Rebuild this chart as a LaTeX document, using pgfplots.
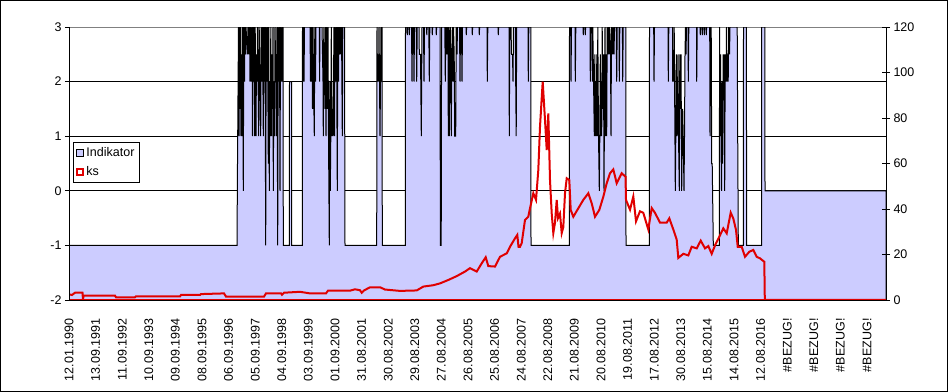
\documentclass[border=0pt]{standalone}
\usepackage{pgfplots}
\pgfplotsset{compat=1.18}
\usepackage{fontspec}
\setmainfont{Liberation Sans}
\definecolor{lav}{RGB}{204,204,255}
\definecolor{ksred}{RGB}{224,0,0}
\pgfplotsset{
  legInd/.style={legend image code/.code={\draw[fill=lav,draw=black,line width=1bp] (0bp,-3.5bp) rectangle (7bp,3.5bp);}},
  legKs/.style={legend image code/.code={\draw[fill=white,draw=ksred,line width=2bp] (0.5bp,-3bp) rectangle (6.5bp,3bp);}},
  base/.style={at={(69bp,92bp)}, anchor=south west, scale only axis,
    width=817bp, height=273bp, xmin=69, xmax=886,
    font=\fontsize{12.5bp}{15bp}\selectfont,
    /pgf/number format/assume math mode=true},
}
\begin{document}
\begin{tikzpicture}
\begin{axis}[base,
  ymin=-2, ymax=3, ytick={-2,-1,0,1,2}, extra y ticks={3},
  extra y tick style={grid style={draw=gray,line width=0.8bp}},
  ymajorgrids, grid style={draw=black, line width=0.8bp},
  axis x line*=bottom, axis y line*=left, axis line style={line width=0.8bp, -},
  xtick={69,95.6,...,868},
  xticklabels={12.01.1990,13.09.1991,11.09.1992,10.09.1993,09.09.1994,08.09.1995,06.09.1996,05.09.1997,04.09.1998,03.09.1999,01.09.2000,31.08.2001,30.08.2002,29.08.2003,27.08.2004,26.08.2005,25.08.2006,24.08.2007,22.08.2008,21.08.2009,20.08.2010,19.08.2011,17.08.2012,30.08.2013,15.08.2014,14.08.2015,12.08.2016,\#BEZUG!,\#BEZUG!,\#BEZUG!,\#BEZUG!},
  x tick label style={rotate=90, anchor=east},
  xticklabel shift=11bp,
  xtick style={draw=none},
  ytick style={draw=black,line width=0.8bp},
  tick align=outside, major tick length=4bp,
]
\addplot[fill=lav, draw=black, line width=1bp] coordinates {
(69,-2)(69,-1)(237,-1)(237.5,0.5)(238.5,3)(239,1)(239.5,3)(240,1.5)(240.5,3)(241,1)(241.5,2.5)(242,1)(242.5,3)(243.3,0)(243.8,3)(244.5,2)(245,3)(245.5,2.5)(246,3)(247.5,2.5)(248,3)(249,2.5)(249.5,3)(250,2)(250.5,3)(251.5,2)(252,3)(252.5,1)(253,3)(253.5,2)(254,3)(254.7,1)(255.2,3)(256,1)(256.5,2.5)(257,2)(257.5,3)(258.7,1)(259.2,3)(260,2)(260.7,1)(261.2,3)(262,2)(262.5,3)(263.3,1)(263.8,3)(264.5,2)(265,3)(265.7,-1)(266.2,3)(267,2)(267.5,3)(268.3,0.5)(268.8,3)(269.3,0)(269.8,2)(270.3,1)(270.8,3)(271.5,1)(272,2.5)(272.5,1.5)(273,3)(273.3,0)(273.8,2)(274.5,1)(275,3)(276,2)(276.5,1)(277,3)(277.7,-1)(278.2,3)(279,2)(279.5,3)(280,0)(280.5,3)(281.5,2)(282,3)(282.5,2)(283,3)(283.3,-1)(289.3,-1)(289.5,2)(291.5,2)(291.7,-1)(302.3,-1)(302.5,3)(303,2)(303.5,3)(304,2)(304.5,3)
(310,3)(310.5,2)(311,3)(311.5,2)(312,3)(312.5,1.5)(313,3)(313.5,2)(314.3,1)(314.8,3)(315.5,2)(316,3)(319.3,3)(319.6,2)(320,3)(322,3)(323,2)(323.3,1)(323.8,3)(324.5,2)(325,1.5)(325.5,3)(326,1)(326.5,3)(327,1.5)(327.5,2)(328,3)(328.5,1)(329.3,-1)(329.8,2)(330.3,0)(330.8,1)(331.3,3)(332,1)(332.5,1.5)(333,1)(333.5,2)(334,3)(334.5,1)(335,3)(336,2)(336.5,3)(337.3,0)(337.8,3)(338.5,2)(339,3)(339.5,2.5)(340,3)(341,2.5)(341.5,3)(342.3,1)(342.8,3)(344.5,3)(345,-1)(376.7,-1)(377,3)(377.5,2)(378,2.5)(378.5,2)(379,3)(379.5,2)(380,1)(380.5,2)(381,3)(381.5,2)(382,3)(382.3,-1)(405.3,-1)(405.5,3)
(407,3)(407.3,2.85)(407.6,3)(409,3)(409.3,2.85)(409.6,3)(411.5,3)(412,2)(412.5,3)(413.5,3)(414,2)(414.5,3)(416.2,3)(416.7,2)(417.2,3)(419,3)(419.3,2.5)(420.5,2.5)(421.3,1)(421.8,2.5)(422,3)(423.5,3)(424,2)(424.5,3)(426.5,3)(426.8,2.85)(427.1,3)(428.8,3)(429.3,2)(429.8,3)(432,3)(432.3,2.85)(432.6,3)(436,3)(436.3,2.85)(436.6,3)(440,3)(440.4,-1)(441.2,-1)(441.6,3)(444.8,3)(445.3,2)(445.8,3)(446.5,2.5)(447,3)(447.5,2.5)(448,3)(448.3,1)(448.8,3)(449.3,1)(449.8,2.5)(450.3,3)(450.8,2)(451.3,1)(451.8,2.5)(452.3,3)(453,2)(453.5,3)(454.2,2.5)(454.7,1)(455.2,1)(455.7,1)(456.2,3)(457,2.5)(457.5,3)(459.5,3)(460,2)(460.5,3)(461.5,3)(462,2)(462.5,3)(466,3)(466.3,2.85)(466.6,3)(472,3)(472.3,2.85)(472.6,3)(479,3)(479.3,2.85)(479.6,3)(487,3)(487.3,2)(487.8,3)(498,3)(498.3,2.85)(498.6,3)(509,3)(509.3,1)(509.8,3)(511,3)(511.5,2.5)(512.5,2.5)(513,2)(513.5,3)(515.3,3)(515.7,2)(516.2,1)(516.7,3)(528,3)(528.3,2)(528.8,3)(530.8,3)(531,-1)(569.3,-1)(569.5,3)
(570.7,3)(571,2)(571.5,3)(575,3)(575.3,2)(575.8,3)(583,3)(583.3,2.85)(583.6,3)(585,3)(585.3,2.85)(585.6,3)(590,3)(590.3,2)(590.8,3)(592,3)(592.3,2)(592.8,3)(594.3,1)(594.8,2.5)(595.3,1)(595.8,2)(596.3,1)(596.8,2.5)(597.3,1)(597.8,3)(598.5,1)(599.3,0)(599.8,1)(600.3,2.5)(600.8,1)(601.3,2)(601.7,1)(602.2,3)(603,1.5)(603.5,2.5)(604,0)(604.5,1.5)(605,3)(605.5,1)(606,2.5)(606.7,1)(607.2,3)(608,2.5)(608.5,3)(609,2.5)(609.5,3)(610.5,2.5)(611,1)(611.5,3)(612.5,2.5)(613,3)(614,2.5)(614.5,3)(616.2,3)(616.7,2)(617.2,3)(619,3)(619.3,2)(619.8,3)(622.4,3)(622.7,2)(623.2,3)(625.8,3)(626,-1)(649.3,-1)(649.5,3)
(653.7,3)(654,2)(654.5,3)(668,3)(668.3,2)(668.8,3)(672.5,3)(672.7,2)(673.2,2.5)(673.7,2)(674.2,3)(675.3,0)(675.8,1)(676.3,2.5)(677,1)(677.5,1.5)(678,2.5)(678.5,1)(679.3,0)(679.8,2.5)(680.3,1.5)(681,2.5)(681.7,0)(682.2,1)(682.7,1.5)(683.2,1)(684,0)(684.5,1)(685,2.5)(685.5,3)(686,2.5)(686.5,3)(688,3)(688.3,2)(688.8,3)(696.5,3)(696.7,2)(697.2,3)(700,3)(700.3,2.85)(700.6,3)(702,3)(702.3,2.85)(702.6,3)(704,3)(704.3,2.85)(704.6,3)(706,3)(706.3,2.85)(706.6,3)(709.7,3)(710,1)(710.5,3)(711.2,3)(711.7,0.5)(712.2,0.5)(713.3,-1)(719.3,-1)(719.6,3)(720.1,1)(720.6,2.5)(721,1)(721.5,0)(722,2)(722.7,0.5)(723.2,2.5)(723.7,2)(724.2,2.5)(724.7,0)(725.2,2.5)(726,2)(726.5,3)(727,2)(727.5,2.5)(728.2,2)(728.7,3)(729.5,2.5)(730,3)(737.2,3)(737.7,1)(738.3,-1)(743.3,-1)(743.5,3)(746.3,3)(746.7,-1)(761.5,-1)(761.7,3)(764.8,3)(765,0)(886,0)(886,-2)
} -- cycle;
\end{axis}
\begin{axis}[base,
  ymin=0, ymax=120, ytick={0,20,...,120},
  axis y line*=right, axis x line=none, axis line style={line width=0.8bp, -},
  ytick style={draw=black,line width=0.8bp},
  tick align=center, major tick length=8bp,
  legend style={at={(0.005,0.579)}, anchor=north west, draw=black, line width=0.8bp,
    fill=white, inner xsep=3bp, inner ysep=3bp, row sep=5bp,
    font=\fontsize{12.5bp}{15bp}\selectfont, cells={anchor=west}},
]
\addlegendimage{legInd}
\addlegendentry{Indikator}
\addplot[ksred, line width=2bp, forget plot] coordinates {(69,0)(886,0)};
\addplot[ksred, line width=2bp, legKs] coordinates {
(69,2.5)(72,2.2)(75,3.2)(82.5,3.2)(83,0)(83.5,1.9)(115,1.9)(116,1.2)(135,1.2)(136,1.6)(180,1.6)(181,2.2)(200,2.2)(201,2.6)(224,2.9)(226,1.5)(264,1.5)(266,2.9)(281,2.9)(282,2.3)(284,3.2)(300,3.6)(310,2.9)(326,2.9)(328,4.1)(350,4.1)(355,4.7)(360,4.3)(361.7,3.2)(364,4.2)(370,5.6)(380,5.6)(385,4.6)(390,4.4)(400,4.0)(416.7,4.2)(423.3,5.9)(433.3,6.5)(440,7.3)(448.3,8.8)(456.7,10.5)(465,12.5)(470,14.0)(476.7,12.5)(481.7,16.1)(485.7,18.8)(488.3,14.9)(495,14.7)(500,19.0)(506.7,20.5)(510,23.4)(515,27.1)(517.3,28.6)(518.5,23.4)(520,23.4)(521.7,25)(525,35.2)(528.3,36.6)(530,40.3)(533.3,46.9)(536,44)(538.3,57.1)(540,76.2)(542.7,96)(545,79.1)(546.7,65.9)(548.3,82)(550,52.7)(551.7,38.1)(553.3,29.4)(555,34)(556.7,44)(558,36)(560,38)(561.7,29.4)(563.3,32)(565,46.9)(566.7,53.5)(569.3,52.7)(570.7,39.6)(573.3,36.6)(578.3,40.3)(583.3,44)(588.3,46.9)(591.7,42.5)(595,36.6)(599.3,39.6)(603.3,45.4)(606.7,51.3)(610,55.7)(613.3,57.4)(616.7,51.3)(621.7,55.7)(625.5,54.2)(626,44)(630,39.7)(633.3,45.5)(636,34.6)(640,39)(643.3,38.3)(648.3,31)(651.7,40.4)(655,38.3)(660,34)(666.7,34)(669.3,35.9)(673.3,31)(676.7,26.5)(678.3,18.5)(683.3,20.3)(688.3,19.6)(691.7,23.4)(696.7,22.7)(700.7,26.1)(705,22.7)(708.3,23.7)(711.7,20.3)(715,24)(719.3,27.8)(723.3,31.5)(726.7,29.3)(730.7,38.4)(733.3,35.8)(736,30.8)(737.7,23.4)(741.7,23.4)(745,19)(749.3,21.2)(753.3,22)(756.7,19)(760,18.3)(764.3,16.8)(764.8,0)(886,0)
};
\addlegendentry{ks}
\draw[black, line width=0.8bp] (rel axis cs:0,0) -- (rel axis cs:0,1);
\end{axis}
\pgfresetboundingbox
\draw[black, line width=1bp] (0.5bp,0.5bp) rectangle (947.5bp,391.5bp);
\useasboundingbox (0,0) rectangle (948bp,392bp);
\end{tikzpicture}
\end{document}
